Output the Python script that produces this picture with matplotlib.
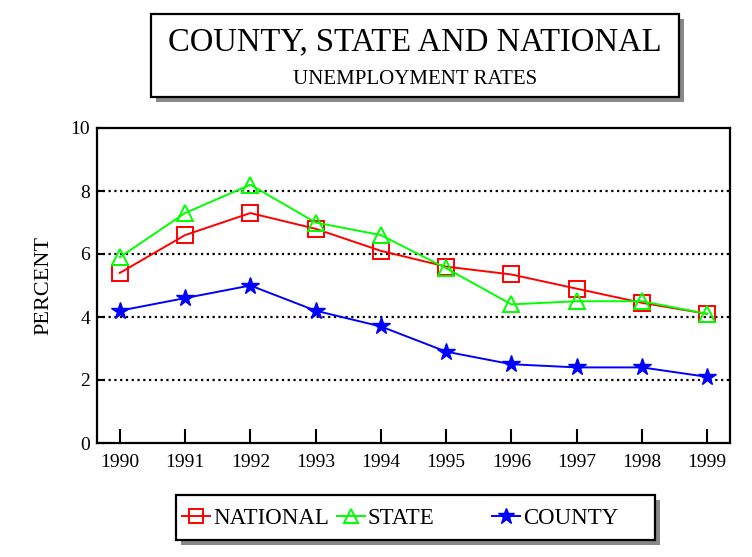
import matplotlib
matplotlib.use("Agg")
import matplotlib.pyplot as plt
from matplotlib.patches import Rectangle
from matplotlib.lines import Line2D

plt.rcParams["font.family"] = ["Liberation Serif", "DejaVu Serif"]

years = [1990, 1991, 1992, 1993, 1994, 1995, 1996, 1997, 1998, 1999]
national = [5.4, 6.6, 7.3, 6.8, 6.1, 5.6, 5.35, 4.9, 4.45, 4.1]
state = [5.9, 7.3, 8.2, 7.0, 6.6, 5.55, 4.4, 4.5, 4.5, 4.1]
county = [4.2, 4.6, 5.0, 4.2, 3.7, 2.9, 2.5, 2.4, 2.4, 2.1]
yticks = [0, 2, 4, 6, 8, 10]

W, H = 752, 557
fig = plt.figure(figsize=(W / 100, H / 100), dpi=100)


def px_box(x0, y0, x1, y1):
    # pixel box (top-left origin) -> figure fraction rect
    return (x0 / W, 1 - y1 / H, (x1 - x0) / W, (y1 - y0) / H)


def shadow_box(x0, y0, x1, y1, off=5):
    sx, sy, sw, sh = px_box(x0 + off, y0 + off, x1 + off, y1 + off)
    fig.patches.append(Rectangle((sx, sy), sw, sh, transform=fig.transFigure,
                                 facecolor="#888888", edgecolor="none", zorder=0))
    bx, by, bw, bh = px_box(x0, y0, x1, y1)
    fig.patches.append(Rectangle((bx, by), bw, bh, transform=fig.transFigure,
                                 facecolor="white", edgecolor="black", linewidth=1.6, zorder=1))


ax = fig.add_axes([97 / W, 1 - 443 / H, (730 - 97) / W, (443 - 128) / H])

ax.plot(years, national, color="#ff0000", linewidth=1.4, marker="s", markersize=11,
        markerfacecolor="none", markeredgewidth=1.4, label="NATIONAL", zorder=3)
ax.plot(years, state, color="#00ff00", linewidth=1.4, marker="^", markersize=12,
        markerfacecolor="none", markeredgewidth=1.4, label="STATE", zorder=3)
ax.plot(years, county, color="#0000ff", linewidth=1.4, marker="*", markersize=13,
        markerfacecolor="#0000ff", markeredgewidth=1.0, label="COUNTY", zorder=4)

for yv in [2, 4, 6, 8]:
    ax.axhline(yv, color="black", linewidth=1.6, linestyle=(0, (1, 1.6)), zorder=1)

ax.set_xlim(1989.65, 1999.35)
ax.set_ylim(0, 10)
ax.set_xticks(years)
ax.set_yticks(yticks)
ax.tick_params(axis="x", direction="in", length=10, width=1.5, labelsize=14, pad=8)
ax.tick_params(axis="y", direction="in", length=6, width=1.5, labelsize=14, pad=5)
for s in ax.spines.values():
    s.set_linewidth(1.6)
ax.set_ylabel("PERCENT", fontsize=16, labelpad=12)

# title box
shadow_box(151, 14, 679, 97)
fig.text((151 + 679) / 2 / W, 1 - 42 / H, "COUNTY, STATE AND NATIONAL",
         ha="center", va="center", fontsize=23.5, zorder=5)
fig.text((151 + 679) / 2 / W, 1 - 79 / H, "UNEMPLOYMENT RATES",
         ha="center", va="center", fontsize=15, zorder=5)

# legend box, one slot per series at equal spacing
shadow_box(176, 495, 655, 540)
handles, labels = ax.get_legend_handles_labels()
leg_handles = [
    Line2D([], [], color="#ff0000", linewidth=1.4, marker="s", markersize=10,
           markerfacecolor="none", markeredgewidth=1.4),
    Line2D([], [], color="#00ff00", linewidth=1.4, marker="^", markersize=10,
           markerfacecolor="none", markeredgewidth=1.4),
    Line2D([], [], color="#0000ff", linewidth=1.4, marker="*", markersize=12,
           markerfacecolor="#0000ff"),
]
slot_x = [182, 337, 492]
for h, lab, sx in zip(leg_handles, labels, slot_x):
    leg = fig.legend([h], [lab], loc="center left",
                     bbox_to_anchor=(sx / W, 1 - 518 / H),
                     frameon=False, fontsize=16.5, handlelength=1.2,
                     handletextpad=0.15, borderpad=0, borderaxespad=0)
    leg.set_zorder(6)

fig.savefig("out.png", dpi=100)
